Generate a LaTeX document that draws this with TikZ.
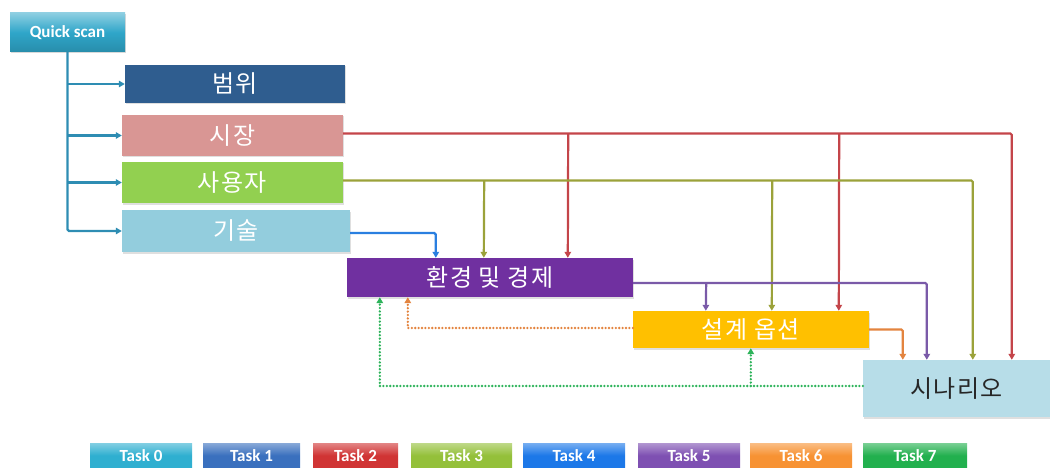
\documentclass[tikz,border=0pt]{standalone}
\usepackage{fontspec}
\setmainfont{Carlito}
\newfontfamily\kr[LetterSpace=6]{Noto Sans CJK KR}
\usetikzlibrary{arrows.meta,shadows}
\definecolor{cqs}{HTML}{2FA6C9}
\definecolor{cbw}{HTML}{2F5D8F}
\definecolor{csij}{HTML}{D99694}
\definecolor{cusr}{HTML}{92D050}
\definecolor{cgis}{HTML}{93CDDD}
\definecolor{cenv}{HTML}{7030A0}
\definecolor{cdes}{HTML}{FFC000}
\definecolor{cscen}{HTML}{B7DDE8}
\definecolor{ltrunk}{HTML}{2E8DB3}
\definecolor{lred}{HTML}{C4454A}
\definecolor{lolive}{HTML}{9BA23A}
\definecolor{lblue}{HTML}{2A7FE0}
\definecolor{lpurple}{HTML}{7A5AA8}
\definecolor{lorange}{HTML}{E3843F}
\definecolor{lgreen}{HTML}{2DB35A}
\definecolor{t0}{HTML}{2FAFD0}
\definecolor{t1}{HTML}{3A70BE}
\definecolor{t2}{HTML}{D03434}
\definecolor{t3}{HTML}{94C03A}
\definecolor{t4}{HTML}{1C78E8}
\definecolor{t5}{HTML}{7E50B2}
\definecolor{t6}{HTML}{F79233}
\definecolor{t7}{HTML}{22B04E}
\tikzset{
  mainbox/.style={draw=none, inner sep=0pt, text=white,
    font=\kr\fontsize{24}{28}\selectfont,
    drop shadow={opacity=0.25, shadow xshift=1pt, shadow yshift=-1.5pt}},
  taskbox/.style={draw=none, inner sep=0pt, text=white, minimum height=25pt,
    font=\bfseries\fontsize{17}{19}\selectfont,
    top color=#1!60!white, bottom color=#1, middle color=#1},
  conn/.style={line width=2.2pt, rounded corners=1.5pt},
  tip/.style={-{Triangle[length=6pt,width=6.5pt]}},
  dotline/.style={line width=2.6pt, dash pattern=on 0pt off 3.4pt, line cap=round}
}
\begin{document}
\begin{tikzpicture}[x=1pt, y=-1pt]
\useasboundingbox (0,0) rectangle (1050,468);
% boxes
\node[draw=none, inner sep=0pt, text=white, minimum width=115pt, minimum height=39pt,
  top color=cqs!55!white, bottom color=cqs!85!black, middle color=cqs,
  font=\bfseries\fontsize{17}{19}\selectfont,
  drop shadow={opacity=0.3, shadow xshift=1pt, shadow yshift=-1.5pt}] (qs) at (67.5,32.5) {Quick scan};
\node[mainbox, fill=cbw, minimum width=220pt, minimum height=38pt] (bw) at (235,84) {범위};
\node[mainbox, fill=csij, minimum width=221pt, minimum height=41pt] (sij) at (232.5,135.5) {시장};
\node[mainbox, fill=cusr, minimum width=221pt, minimum height=41pt] (usr) at (232.5,182.5) {사용자};
\node[mainbox, fill=cgis, minimum width=228pt, minimum height=42pt] (gis) at (236,231) {기술};
\node[mainbox, fill=cenv, minimum width=286pt, minimum height=39pt] (env) at (490,277.5) {환경 및 경제};
\node[mainbox, fill=cdes, minimum width=236pt, minimum height=37pt] (des) at (751,329.5) {설계 옵션};
\node[mainbox, fill=cscen, text=black!85, minimum width=187pt, minimum height=57pt] (scen) at (956.5,388.5) {시나리오};
% tasks
\node[taskbox=t0, minimum width=102pt] (k0) at (141,455.5) {Task 0};
\node[taskbox=t1, minimum width=97pt] (k1) at (251.5,455.5) {Task 1};
\node[taskbox=t2, minimum width=85pt] (k2) at (355.5,455.5) {Task 2};
\node[taskbox=t3, minimum width=101pt] (k3) at (461.5,455.5) {Task 3};
\node[taskbox=t4, minimum width=102pt] (k4) at (574,455.5) {Task 4};
\node[taskbox=t5, minimum width=102pt] (k5) at (689,455.5) {Task 5};
\node[taskbox=t6, minimum width=102pt] (k6) at (801,455.5) {Task 6};
\node[taskbox=t7, minimum width=104pt] (k7) at (915,455.5) {Task 7};
% trunk from Quick scan
\draw[conn, ltrunk, tip] (qs.south) |- (gis.west);
\draw[conn, ltrunk, tip] (qs.south |- bw.west) -- (bw.west);
\draw[conn, ltrunk, tip] (qs.south |- sij.west) -- (sij.west);
\draw[conn, ltrunk, tip] (qs.south |- usr.west) -- (usr.west);
% red (market)
\draw[conn, lred, tip] ([yshift=2pt]sij.east) -| ([xshift=149pt]scen.north west);
\draw[conn, lred, tip] ([xshift=225pt,yshift=2pt]sij.east) -- ([xshift=221pt]env.north west);
\draw[conn, lred, tip] ([xshift=496pt,yshift=2pt]sij.east) -- ([xshift=206pt]des.north west);
% olive (users)
\draw[conn, lolive, tip] ([yshift=2pt]usr.east) -| ([xshift=110pt]scen.north west);
\draw[conn, lolive, tip] ([xshift=141pt,yshift=2pt]usr.east) -- ([xshift=137pt]env.north west);
\draw[conn, lolive, tip] ([xshift=429pt,yshift=2pt]usr.east) -- ([xshift=139pt]des.north west);
% blue (technology)
\draw[conn, lblue, tip] ([yshift=-2pt]gis.east) -| ([xshift=89pt]env.north west);
% purple (environment)
\draw[conn, lpurple, tip] ([yshift=-5.5pt]env.east) -| ([xshift=64pt]scen.north west);
\draw[conn, lpurple, tip] ([xshift=73pt,yshift=-5.5pt]env.east) -- ([xshift=73pt]des.north west);
% orange (design options)
\draw[conn, lorange, tip] (des.east) -| ([xshift=40pt]scen.north west);
\draw[dotline, lorange, tip] ([yshift=1.5pt]des.west) -| ([xshift=61pt]env.south west);
% green dotted (scenario feedback)
\draw[dotline, lgreen, tip] ([yshift=2.5pt]scen.west) -| ([xshift=33pt]env.south west);
\draw[dotline, lgreen, tip] ([xshift=-112pt,yshift=2.5pt]scen.west) -- ([xshift=118pt]des.south west);
\end{tikzpicture}
\end{document}
